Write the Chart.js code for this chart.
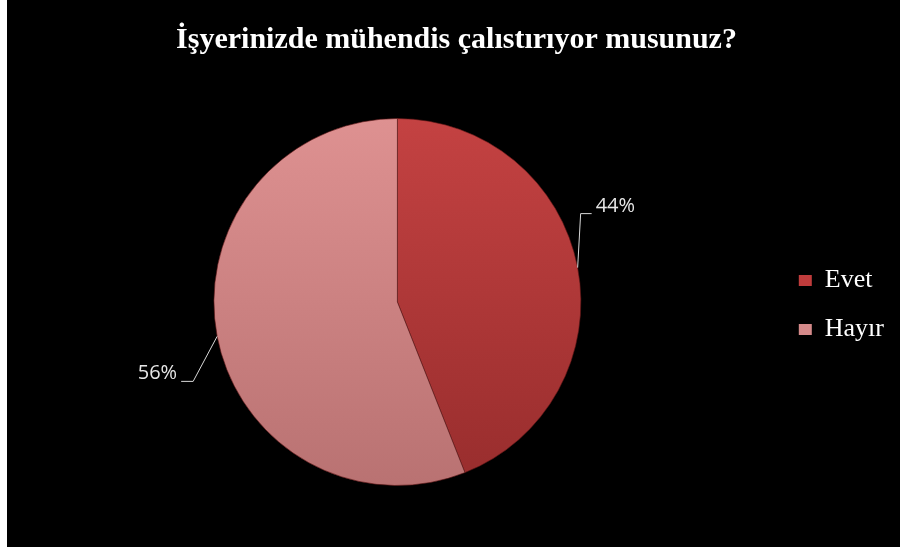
<!DOCTYPE html>
<html>
<head>
<meta charset="utf-8">
<script src="https://cdn.jsdelivr.net/npm/chart.js@4/dist/chart.umd.min.js"></script>
<style>
  html, body { margin: 0; padding: 0; background: #fff; }
  #wrap { position: absolute; left: 7px; top: 0; width: 893px; height: 547px; background: #000; }
</style>
</head>
<body>
<div id="wrap"><canvas id="pie"></canvas></div>
<script>
// data
let labels = ["Evet", "Hayır"];
let values = [44, 56];
let titleText = "İşyerinizde mühendis çalıstırıyor musunuz?";

// slice colours (top / bottom of the gradient, legend swatch)
let topColors = ["#c44242", "#de9191"];
let bottomColors = ["#982d2d", "#b97272"];
let swatchColors = ["#c03c3c", "#d58a8a"];

function sliceColor(ctx) {
  let chart = ctx.chart;
  let area = chart.chartArea;
  let i = ctx.dataIndex;
  if (!area) return swatchColors[i];
  let g = chart.ctx.createLinearGradient(0, area.top, 0, area.bottom);
  g.addColorStop(0, topColors[i]);
  g.addColorStop(1, bottomColors[i]);
  return g;
}

// percent labels with leader lines, like the office chart
let leaderOffsets = [
  { elbow: [3, -54], end: [14, -54], text: [18, -56], align: "left" },
  { elbow: [-24, 45], end: [-36, 45], text: [-40, 43], align: "right" }
];
const pctLabels = {
  id: "pctLabels",
  afterDatasetsDraw(chart) {
    let c = chart.ctx;
    let meta = chart.getDatasetMeta(0);
    let total = values.reduce((a, b) => a + b, 0);
    meta.data.forEach((arc, i) => {
      let p = arc.getProps(["x", "y", "startAngle", "endAngle", "outerRadius"], true);
      let mid = (p.startAngle + p.endAngle) / 2;
      let ex = p.x + Math.cos(mid) * p.outerRadius;
      let ey = p.y + Math.sin(mid) * p.outerRadius;
      let o = leaderOffsets[i];
      c.save();
      c.strokeStyle = "#d9d9d9";
      c.lineWidth = 1;
      c.beginPath();
      c.moveTo(ex, ey);
      c.lineTo(ex + o.elbow[0], ey + o.elbow[1]);
      c.lineTo(ex + o.end[0], ey + o.end[1]);
      c.stroke();
      c.fillStyle = "#e6e6e6";
      c.font = '20px "Open Sans"';
      c.textAlign = o.align;
      c.textBaseline = "alphabetic";
      c.fillText(Math.round(values[i] / total * 100) + "%", ex + o.text[0], ey + o.text[1]);
      c.restore();
    });
  }
};

let pieChart = new Chart(document.getElementById("pie"), {
  type: "pie",
  data: {
    labels: labels,
    datasets: [{
      data: values,
      backgroundColor: sliceColor,
      borderColor: "rgba(90,20,20,0.6)",
      borderWidth: 1
    }]
  },
  options: {
    responsive: true,
    maintainAspectRatio: false,
    animation: false,
    layout: { padding: { left: 12, right: 6, top: 0, bottom: 61 } },
    plugins: {
      title: {
        display: true,
        text: titleText,
        color: "#ffffff",
        font: { family: '"Liberation Serif", "Times New Roman", serif', size: 30, weight: "bold", lineHeight: 1.2 },
        padding: { top: 22, bottom: 60 }
      },
      legend: {
        position: "right",
        title: {
          display: true,
          text: " ",
          font: { size: 1, lineHeight: 1 },
          padding: { top: 123, bottom: 0 }
        },
        labels: {
          color: "#ffffff",
          font: { family: '"Liberation Serif", "Times New Roman", serif', size: 26 },
          boxWidth: 13,
          boxHeight: 11,
          padding: 23,
          generateLabels(chart) {
            let items = Chart.overrides.pie.plugins.legend.labels.generateLabels(chart);
            items.forEach((it, i) => {
              it.fillStyle = swatchColors[i];
              it.strokeStyle = "#000";
              it.lineWidth = 0;
            });
            return items;
          }
        }
      },
      tooltip: { enabled: false }
    }
  },
  plugins: [pctLabels]
});
</script>
</body>
</html>
